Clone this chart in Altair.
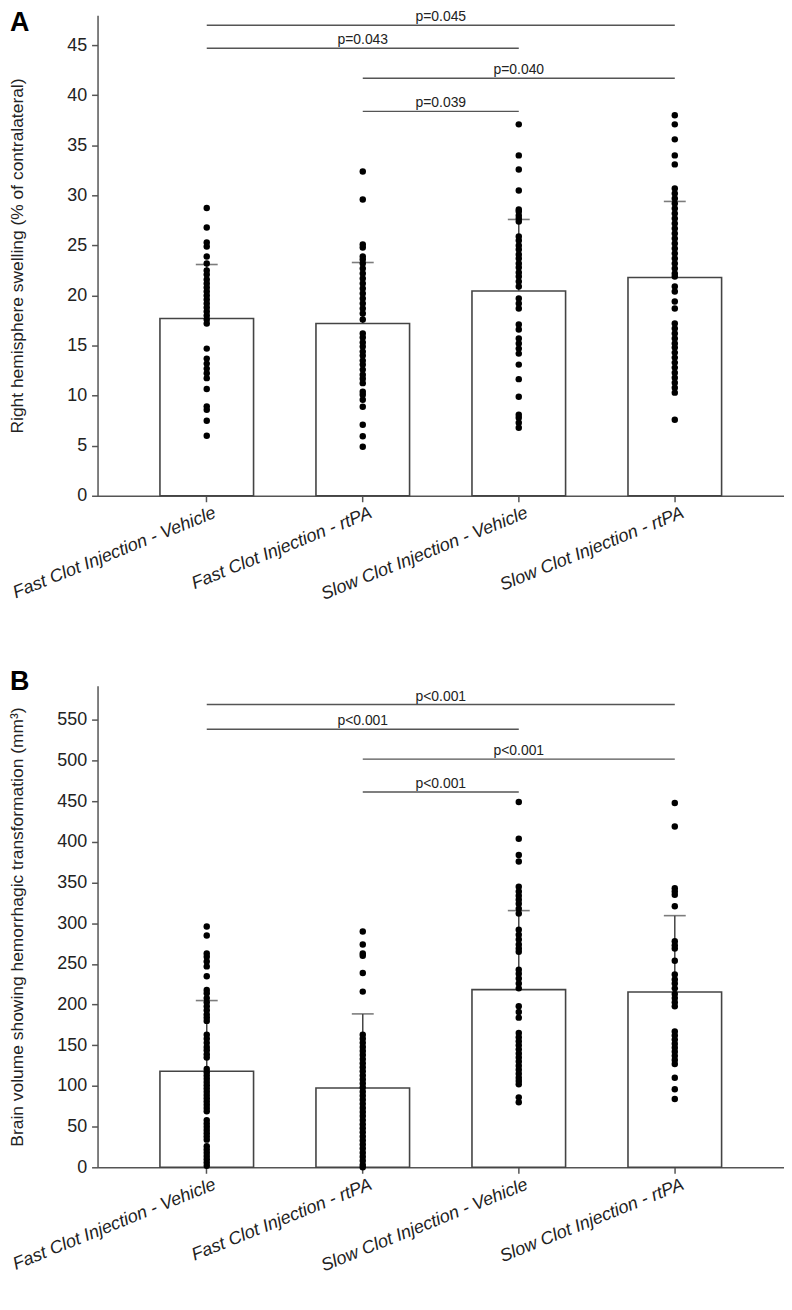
import altair as alt
import pandas as pd

groups = [
    "Fast Clot Injection - Vehicle",
    "Fast Clot Injection - rtPA",
    "Slow Clot Injection - Vehicle",
    "Slow Clot Injection - rtPA",
]

# ---------- Panel A: right hemisphere swelling ----------
a_means = [17.7, 17.2, 20.45, 21.8]
a_sd_top = [23.1, 23.3, 27.6, 29.4]
a_g1 = [28.75, 26.8, 25.3, 24.9, 23.9, 23.2, 22.5, 22.1, 21.6, 21.2, 20.8, 20.4,
        20.0, 19.6, 19.2, 18.8, 18.4, 18.0, 17.6, 17.2, 14.7, 13.7, 13.2, 12.7,
        12.25, 11.75, 10.66, 8.93, 8.6, 7.5, 6.0]
a_g2 = [32.4, 29.6, 25.1, 24.8, 23.9, 23.6, 23.2, 22.7, 22.2, 21.7, 21.2, 20.7,
        20.2, 19.7, 19.2, 18.7, 18.2, 17.6, 16.2, 15.8, 15.3, 14.9, 14.4, 14.0,
        13.5, 13.1, 12.6, 12.1, 11.7, 11.25, 10.4, 10.1, 9.6, 8.9, 7.1, 5.95, 4.9]
a_g3 = [37.1, 34.0, 32.6, 30.5, 28.6, 28.4, 28.0, 27.7, 27.4, 25.9, 25.5, 25.0,
        24.6, 24.1, 23.7, 23.2, 22.8, 22.3, 21.9, 21.4, 20.9, 19.7, 19.2, 18.7,
        17.1, 16.6, 15.7, 15.2, 14.7, 14.2, 13.1, 11.65, 9.9, 8.1, 7.8, 7.3, 6.8]
a_g4 = [38.0, 37.1, 35.6, 34.0, 33.1, 30.7, 30.2, 29.7, 29.2, 28.7, 28.2, 27.7,
        27.2, 26.7, 26.2, 25.7, 25.2, 24.7, 24.2, 23.7, 23.2, 22.7, 22.2, 21.9,
        20.9, 20.4, 19.4, 18.7, 17.2, 16.7, 16.2, 15.7, 15.2, 14.8, 14.3, 13.8,
        13.3, 12.8, 12.3, 11.8, 11.3, 10.8, 10.3, 7.6]
a_br_from = [0, 0, 1, 1]
a_br_to = [3, 2, 3, 2]
a_br_y = [47.0, 44.7, 41.7, 38.4]
a_br_label = ["p=0.045", "p=0.043", "p=0.040", "p=0.039"]
a_ticks = [0, 5, 10, 15, 20, 25, 30, 35, 40, 45]

# ---------- Panel B: hemorrhagic transformation volume ----------
b_means = [118, 97.5, 218.4, 215.5]
b_sd_top = [205, 188.6, 315.6, 309.4]
b_g1 = [296, 285, 263, 259, 253, 247, 235, 218, 214, 208, 203, 198, 193, 188,
        184, 180, 163, 158, 153, 148, 144, 139, 135, 121, 117, 113, 109, 105,
        101, 97, 93, 89, 85, 81, 77, 73, 69, 58, 54, 50, 46, 42, 38, 34, 26,
        22, 18, 14, 10, 6, 2]
b_g2 = [290, 274, 263, 260, 239, 216, 163, 158, 153, 148, 143, 138, 133, 128,
        123, 118, 113, 108, 103, 98, 93, 88, 83, 78, 73, 68, 63, 58, 53, 48,
        43, 38, 33, 28, 23, 18, 13, 8, 3, 0]
b_g3 = [449, 404, 384, 376, 345, 339, 334, 329, 324, 318, 312, 292, 286, 280,
        274, 269, 265, 243, 238, 232, 226, 220, 198, 191, 184, 165, 160, 155,
        150, 145, 140, 135, 130, 125, 120, 115, 110, 106, 102, 86, 80]
b_g4 = [448, 419, 343, 339, 335, 321, 278, 273, 269, 254, 237, 231, 226, 220,
        213, 208, 203, 198, 167, 162, 157, 152, 147, 142, 137, 132, 127, 110,
        96, 84]
b_br_from = [0, 0, 1, 1]
b_br_to = [3, 2, 3, 2]
b_br_y = [569, 538.6, 501.8, 461.4]
b_br_label = ["p<0.001", "p<0.001", "p<0.001", "p<0.001"]
b_ticks = [0, 50, 100, 150, 200, 250, 300, 350, 400, 450, 500, 550]

W = 690
STEP = W / 4.4
FONT = "Liberation Sans"
AXIS_COLOR = "#555555"
INK = "#222222"
NOFRAME = alt.ViewConfig(stroke="transparent", strokeWidth=0)


def panel(letter, letter_y, means, sd_top, dot_lists, br_from, br_to, br_y,
          br_label, ymax, ticks, ytitle, height):
    bars_df = pd.DataFrame({"group": groups, "mean": means, "top": sd_top})
    dots_df = pd.DataFrame(
        [{"group": groups[i], "v": v} for i, lst in enumerate(dot_lists) for v in lst]
    )
    br_rows = []
    for f, t, y, lab in zip(br_from, br_to, br_y, br_label):
        mid = (f + t) / 2
        br_rows.append({
            "g1": groups[f], "g2": groups[t], "y": y, "label": lab,
            "mid_group": groups[int(mid)], "half": mid != int(mid),
        })
    br_df = pd.DataFrame(br_rows)

    xenc = alt.X(
        "group:N", sort=groups, title=None,
        scale=alt.Scale(paddingInner=0.4, paddingOuter=0.4),
        axis=alt.Axis(
            labelAngle=-22, labelAlign="right", labelBaseline="top",
            labelFontStyle="italic", labelFontSize=18, labelFont=FONT,
            labelColor=INK, labelPadding=2, labelOffset=5, tickSize=6,
            tickColor=AXIS_COLOR, domainColor=AXIS_COLOR, domainWidth=1.5,
            tickWidth=1.5, labelLimit=400,
        ),
    )
    yscale = alt.Scale(domain=[0, ymax], nice=False, zero=True)
    yaxis = alt.Axis(
        values=ticks, title=ytitle, titleFont=FONT, titleFontSize=17.5,
        titleFontWeight="normal", titleColor=INK, titleX=-80,
        titleY=height / 2, titleAngle=-90, titleAlign="center",
        titleBaseline="middle", labelFont=FONT, labelFontSize=18,
        labelColor=INK, tickSize=6, tickColor=AXIS_COLOR, tickWidth=1.5,
        domainColor=AXIS_COLOR, domainWidth=1.5, labelPadding=5, grid=False,
    )

    bars = alt.Chart(bars_df).mark_bar(
        fill="white", stroke="#444444", strokeWidth=1.6
    ).encode(x=xenc, y=alt.Y("mean:Q", scale=yscale, axis=yaxis))

    err = alt.Chart(bars_df).mark_rule(color="#444444", strokeWidth=1.5).encode(
        x=alt.X("group:N", sort=groups), y="mean:Q", y2="top:Q"
    )
    caps = alt.Chart(bars_df).mark_tick(
        color="#444444", size=22, thickness=1.6, orient="horizontal"
    ).encode(x=alt.X("group:N", sort=groups), y="top:Q")

    dots = alt.Chart(dots_df).mark_circle(size=42, color="black", opacity=1).encode(
        x=alt.X("group:N", sort=groups), y="v:Q"
    )

    br_lines = alt.Chart(br_df).mark_rule(color="#555555", strokeWidth=1.4).encode(
        x=alt.X("g1:N", sort=groups), x2="g2:N", y="y:Q"
    )
    br_text_c = alt.Chart(br_df).transform_filter("!datum.half").mark_text(
        font=FONT, fontSize=14, color=INK, baseline="bottom", dy=-1
    ).encode(x=alt.X("mid_group:N", sort=groups), y="y:Q", text="label:N")
    br_text_h = alt.Chart(br_df).transform_filter("datum.half").mark_text(
        font=FONT, fontSize=14, color=INK, baseline="bottom", dy=-1, dx=STEP / 2
    ).encode(x=alt.X("mid_group:N", sort=groups), y="y:Q", text="label:N")

    letter_df = pd.DataFrame({"t": [letter]})
    let = alt.Chart(letter_df).mark_text(
        font=FONT, fontSize=27, fontWeight="bold", color="black",
        align="left", baseline="top"
    ).encode(x=alt.value(-88), y=alt.value(letter_y), text="t:N")

    return alt.layer(bars, err, caps, dots, br_lines, br_text_c, br_text_h, let).properties(
        width=W, height=height, view=NOFRAME
    )


pa = panel("A", -5, a_means, a_sd_top, [a_g1, a_g2, a_g3, a_g4], a_br_from, a_br_to,
           a_br_y, a_br_label, 48, a_ticks,
           "Right hemisphere swelling (% of contralateral)", 483)
pb = panel("B", -17, b_means, b_sd_top, [b_g1, b_g2, b_g3, b_g4], b_br_from, b_br_to,
           b_br_y, b_br_label, 592, b_ticks,
           "Brain volume showing hemorrhagic transformation (mm³)", 484)

chart = alt.vconcat(pa, pb, spacing=64).properties(
    padding={"left": 0, "top": -2, "right": 0, "bottom": 0}
).configure_view(stroke="transparent", strokeWidth=0).configure(background="white")

chart.save("out.html", embed_options={"renderer": "svg", "actions": False})
